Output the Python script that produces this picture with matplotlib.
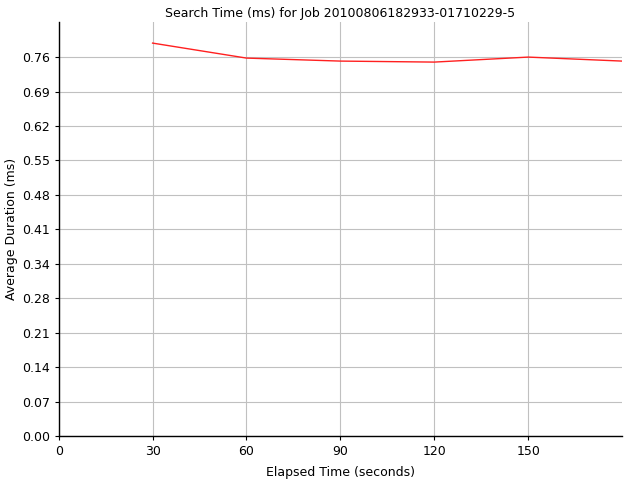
import matplotlib
matplotlib.use('Agg')
import matplotlib.pyplot as plt

# elapsed time (s) and average search duration (ms)
elapsed = [30, 60, 90, 120, 150, 180]
duration = [0.786, 0.756, 0.750, 0.748, 0.758, 0.750]

yticks = [0.0689 * i for i in range(12)]
ytick_labels = ['0.00', '0.07', '0.14', '0.21', '0.28', '0.34', '0.41',
                '0.48', '0.55', '0.62', '0.69', '0.76']
xticks = [0, 30, 60, 90, 120, 150]

plt.rcParams['font.family'] = 'DejaVu Sans'

fig = plt.figure(figsize=(6.4, 4.8), dpi=100)
ax = fig.add_axes([0.0917, 0.0917, 0.8803, 0.8633])

ax.plot(elapsed, duration, color='#ff2020', linewidth=1.0, zorder=3)

ax.set_xlim(0, 180)
ax.set_ylim(0, 0.829)
ax.set_xticks(xticks)
ax.set_yticks(yticks)
ax.set_yticklabels(ytick_labels)
ax.grid(True, color='#c0c0c0', linewidth=0.8)
ax.set_axisbelow(True)

for side in ['top', 'right']:
	ax.spines[side].set_visible(False)
for side in ['left', 'bottom']:
	ax.spines[side].set_color('black')
	ax.spines[side].set_linewidth(1.0)
ax.tick_params(direction='out', length=3, labelsize=9, colors='black')

ax.set_title('Search Time (ms) for Job 20100806182933-01710229-5', fontsize=9, pad=3)
ax.set_xlabel('Elapsed Time (seconds)', fontsize=9, labelpad=6)
ax.set_ylabel('Average Duration (ms)', fontsize=9)
ax.yaxis.set_label_coords(-0.072, 0.5)

fig.savefig('out.png', dpi=100)
